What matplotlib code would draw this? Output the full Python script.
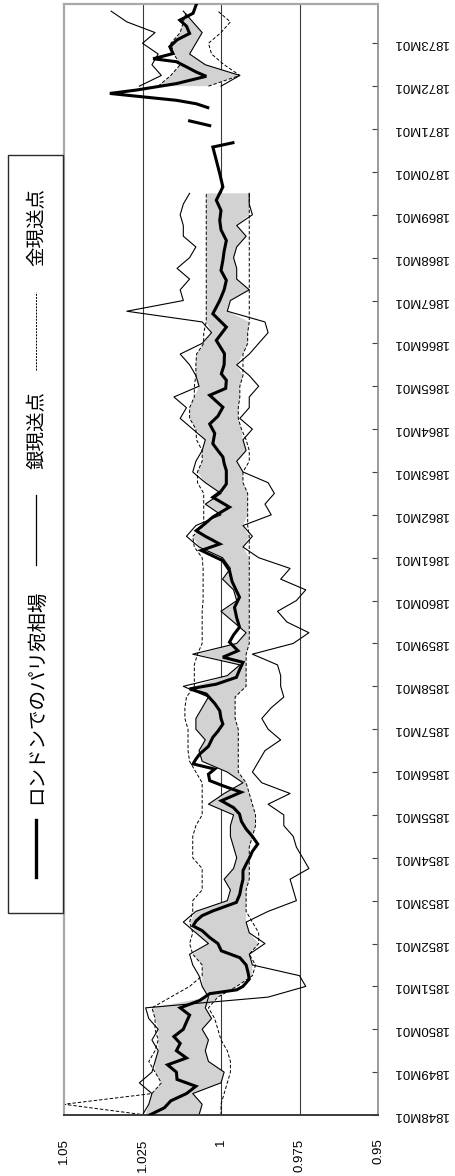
import numpy as np
import matplotlib
matplotlib.use("Agg")
import matplotlib.pyplot as plt
from matplotlib.patches import Rectangle
from matplotlib.lines import Line2D

plt.rcParams['font.family'] = ['Liberation Sans', 'Noto Sans CJK JP', 'DejaVu Sans']

nan = np.nan

# ---------------- data ----------------
legend_labels = ["ロンドンでのパリ宛相場", "銀現送点", "金現送点"]
value_ticks = [1.05, 1.025, 1.0, 0.975, 0.95]
value_tick_labels = ["1.05", "1.025", "1", "0.975", "0.95"]
year_ticks = list(range(1848, 1874))
year_tick_labels = [f"{y}M01" for y in year_ticks]

# quarterly dates 1848Q1 .. 1873Q4
band_t = np.arange(1848.0, 1874.0, 0.25)

gold_a = [1.024, 1.05, 1.022, 1.019,
          1.021, 1.023, 1.021, 1.020,
          1.021, 1.021, 1.022, 1.016,
          1.010, 1.006, 1.006, 1.009,
          1.010, 1.009, 1.010, 1.009,
          1.009, 1.006, 1.006, 1.006,
          1.009, 1.009, 1.009, 1.008,
          1.006, 1.006, 1.006, 1.006,
          1.008, 1.010, 1.0105, 1.0105,
          1.0105, 1.0115, 1.0115, 1.011,
          1.0085, 1.0085, 1.0085, 1.0075,
          1.006, 1.006, 1.006, 1.006,
          1.0057, 1.0057, 1.0057, 1.0057,
          1.006, 1.0085, 1.009, 1.0055,
          1.0055, 1.0055, 1.0055, 1.0075,
          1.0075, 1.006, 1.006, 1.0078,
          1.008, 1.010, 1.010, 1.0085,
          1.0085, 1.008, 1.008, 1.0078,
          1.0055, 1.0055, 1.0047, 1.0047,
          1.0047, 1.0047, 1.0047, 1.0047,
          1.0047, 1.0047, 1.0047, 1.0047,
          1.0047, 1.0047, 1.0047, nan,
          nan, nan, nan, nan,
          nan, nan, nan, nan,
          1.020, 1.016, 1.013, 1.015,
          1.016, 1.013, 1.012, 1.011]

gold_b = [1.000, 1.000, 0.999, 0.998,
          0.997, 0.997, 0.998, 1.000,
          1.001, 1.002, 1.004, 1.001,
          0.995, 0.990, 0.989, 0.991,
          0.988, 0.988, 0.990, 0.992,
          0.992, 0.992, 0.991, 0.991,
          0.991, 0.991, 0.990, 0.989,
          0.989, 0.990, 0.991, 0.992,
          0.9945, 0.9945, 0.9945, 0.9945,
          0.9945, 0.9955, 0.9955, 0.9955,
          0.992, 0.992, 0.992, 0.992,
          0.991, 0.991, 0.991, 0.991,
          0.991, 0.991, 0.991, 0.991,
          0.991, 0.991, 0.991, 0.9915,
          0.9915, 0.9915, 0.9915, 0.993,
          0.993, 0.991, 0.991, 0.992,
          0.9935, 0.9945, 0.9945, 0.994,
          0.994, 0.993, 0.993, 0.993,
          0.9915, 0.9915, 0.991, 0.991,
          0.991, 0.991, 0.991, 0.991,
          0.991, 0.991, 0.991, 0.991,
          0.991, 0.991, 0.991, nan,
          nan, nan, nan, nan,
          nan, nan, nan, nan,
          1.004, 0.994, 0.999, 1.003,
          1.004, 1.000, 0.997, 1.001]

silver_a = [1.025, 1.023, 1.022, 1.026,
            1.022, 1.021, 1.020, 1.022,
            1.020, 1.023, 1.024, 0.985,
            0.973, 0.975, 0.990, 0.991,
            0.986, 0.991, 0.992, 0.985,
            0.976, 0.977, 0.978, 0.972,
            0.974, 0.976, 0.977, 0.980,
            0.980, 0.985, 0.978, 0.987,
            0.990, 0.988, 0.986, 0.981,
            0.985, 0.987, 0.984, 0.980,
            0.981, 0.981, 0.982, 0.990,
            0.977, 0.972, 0.979, 0.982,
            0.976, 0.973, 0.981, 0.978,
            0.988, 0.993, 0.990, 0.993,
            0.984, 0.986, 0.983, 0.985,
            0.993, 0.995, 0.992, 0.993,
            0.990, 0.994, 0.991, 0.991,
            0.988, 0.991, 0.995, 0.991,
            0.988, 0.985, 0.986, 0.998,
            0.997, 0.991, 0.995, 0.995,
            0.996, 0.995, 0.992, 0.995,
            0.990, 0.991, 0.991, nan,
            nan, nan, nan, nan,
            nan, nan, nan, nan,
            1.000, 0.994, 1.005, 1.010,
            1.008, 1.006, 1.009, 1.012]

silver_b = [1.007, 1.006, 1.009, 1.000,
            0.999, 1.004, 1.005, 1.004,
            1.006, 1.003, 1.005, 1.004,
            1.006, 1.007, 1.009, 1.010,
            1.004, 1.008, 1.012, 1.008,
            0.998, 0.997, 0.999, 0.996,
            0.995, 0.996, 0.997, 0.997,
            0.996, 1.004, 0.999, 0.993,
            0.998, 1.006, 1.007, 1.005,
            1.008, 1.008, 1.006, 1.004,
            1.012, 0.998, 0.994, 1.009,
            0.995, 0.992, 0.996, 1.000,
            0.995, 0.996, 0.9995, 0.997,
            0.9995, 1.007, 1.011, 1.008,
            1.000, 1.005, 1.000, 1.005,
            1.009, 1.008, 1.006, 1.005,
            1.009, 1.013, 1.011, 1.015,
            1.007, 1.008, 1.010, 1.013,
            1.006, 1.003, 1.006, 1.030,
            1.012, 1.013, 1.010, 1.014,
            1.010, 1.008, 1.012, 1.012,
            1.013, 1.012, 1.010, nan,
            nan, nan, nan, nan,
            nan, nan, nan, nan,
            1.026, 1.019, 1.022, 1.020,
            1.025, 1.021, 1.030, 1.035]

rate_t = [1848.00, 1848.17, 1848.33, 1848.50, 1848.67, 1848.83, 1849.00, 1849.17,
          1849.33, 1849.50, 1849.67, 1849.83, 1850.00, 1850.17, 1850.33, 1850.50,
          1850.67, 1850.83, 1850.92, 1851.00, 1851.17, 1851.33, 1851.50, 1851.67,
          1851.83, 1852.00, 1852.14, 1852.30, 1852.41, 1852.53, 1852.65, 1852.76,
          1852.96, 1853.15, 1853.31, 1853.50, 1853.70, 1853.85, 1854.00, 1854.15,
          1854.32, 1854.50, 1854.67, 1854.85, 1855.02, 1855.17, 1855.33, 1855.53,
          1855.67, 1855.80, 1855.95, 1856.07, 1856.19, 1856.30, 1856.42, 1856.60,
          1856.81, 1856.95, 1857.12, 1857.25, 1857.43, 1857.60, 1857.82, 1857.94,
          1858.05, 1858.21, 1858.40, 1858.56, 1858.68, 1858.83, 1859.03, 1859.20,
          1859.38, 1859.60, 1859.84, 1860.08, 1860.23, 1860.45, 1860.70, 1860.93,
          1861.17, 1861.32, 1861.50, 1861.63, 1861.80, 1861.95, 1862.18, 1862.41,
          1862.55, 1862.72, 1863.03, 1863.20, 1863.35, 1863.50, 1863.66, 1863.90,
          1864.12, 1864.30, 1864.51, 1864.79, 1864.95, 1865.14, 1865.29, 1865.50,
          1865.76, 1866.07, 1866.38, 1866.69, 1867.00, 1867.25, 1867.47, 1867.70,
          1867.94, 1868.15, 1868.40, 1868.65, 1868.87, 1869.10, 1869.34, 1869.65,
          1869.96, 1870.27, 1870.58, 1870.68, 1870.85, 1871.08, 1871.19, 1871.35,
          1871.50, 1871.59, 1871.67, 1871.75, 1871.83, 1871.91, 1872.06, 1872.23,
          1872.33, 1872.45, 1872.57, 1872.64, 1872.76, 1872.92, 1873.08, 1873.23,
          1873.40, 1873.54, 1873.70, 1873.92]
rate_v = [1.0227, 1.018, 1.016, 1.011, 1.008, 1.014, 1.0142, 1.017,
          1.011, 1.0142, 1.013, 1.015, 1.012, 1.011, 1.010, 1.013,
          1.0068, 1.0036, 0.995, 0.993, 0.991, 0.9914, 0.992, 0.994,
          0.9999, 1.001, 1.0036, 1.006, 1.0089, 1.0079, 1.006, 1.0026,
          0.9951, 0.994, 0.9936, 0.993, 0.993, 0.992, 0.9909, 0.990,
          0.9883, 0.990, 0.992, 0.9935, 0.9941, 0.996, 0.9999, 0.9936,
          0.999, 1.0036, 1.004, 1.002, 1.0089, 1.008, 1.0068, 1.004,
          1.0026, 1.001, 0.9994, 1.000, 1.0004, 1.002, 1.0047, 1.010,
          1.0015, 0.9951, 0.994, 0.993, 0.9994, 0.9946, 0.9973, 0.996,
          0.9941, 0.995, 0.9957, 0.9941, 0.9951, 0.9965, 0.9973, 0.9994,
          1.0063, 1.0004, 1.005, 1.0079, 1.005, 1.0026, 0.9973, 1.0026,
          1.000, 0.9983, 0.9983, 0.999, 0.9994, 1.001, 1.0026, 1.002,
          1.0036, 1.001, 0.9994, 1.0036, 0.9985, 0.9983, 0.9999, 0.999,
          0.9989, 1.0015, 0.9983, 1.0026, 1.0004, 0.999, 0.9983, 1.000,
          0.9994, 0.999, 0.9983, 1.000, 1.0004, 1.000, 1.0015, 0.9994,
          1.0004, 1.0015, 1.0026, 0.9962, nan, 1.0036, 1.010, nan,
          1.0042, 1.0079, 1.0142, 1.0248, 1.0354, 1.0269, 1.0142, 1.0047,
          1.0079, 1.011, 1.0142, 1.0216, 1.0153, 1.0163, 1.014, 1.010,
          1.011, 1.0131, 1.0089, 1.0078]

# ---------------- figure ----------------
W, H = 456, 1176
fig = plt.figure(figsize=(W / 100, H / 100), dpi=100)
L, R, T, B = 64, 378, 4, 1115
ax = fig.add_axes([L / W, 1 - B / H, (R - L) / W, (B - T) / H])
ax.set_xlim(1.05, 0.95)
ax.set_ylim(1848.0, 1873 + 11 / 12)

ga, gb = np.array(gold_a), np.array(gold_b)
sa, sb = np.array(silver_a), np.array(silver_b)
lo = np.fmax(np.fmin(ga, gb), np.fmin(sa, sb))
hi = np.fmin(np.fmax(ga, gb), np.fmax(sa, sb))
valid = np.isfinite(lo) & np.isfinite(hi) & (hi > lo)
ax.fill_betweenx(band_t, lo, hi, where=valid, interpolate=True,
                 color='#d2d2d2', lw=0, zorder=1)

for v in value_ticks[1:-1]:
    ax.axvline(v, color='#3a3a3a', lw=0.8, zorder=0.5)

dash = (0, (3.5, 2.0))
ax.plot(gold_a, band_t, color='black', lw=0.7, ls=dash, zorder=2)
ax.plot(gold_b, band_t, color='black', lw=0.7, ls=dash, zorder=2)
ax.plot(silver_a, band_t, color='black', lw=0.8, zorder=2.1)
ax.plot(silver_b, band_t, color='black', lw=0.8, zorder=2.1)
ax.plot(rate_v, rate_t, color='black', lw=2.2, zorder=3, solid_joinstyle='miter')

ax.set_xticks(value_ticks)
ax.set_xticklabels(value_tick_labels, rotation=90, fontsize=9.5)
ax.tick_params(axis='x', length=0, pad=17)

ax.yaxis.tick_right()
ax.set_yticks(year_ticks)
ax.set_yticklabels(year_tick_labels, rotation=180, fontsize=9.5, va='center')
ax.tick_params(axis='y', direction='in', length=4.5, width=0.8, color='#404040', pad=10)

for side in ['left', 'top']:
    ax.spines[side].set_color('#a8a8a8')
    ax.spines[side].set_linewidth(1.6)
ax.spines['bottom'].set_color('#3c3c3c')
ax.spines['bottom'].set_linewidth(1.4)
ax.spines['right'].set_color('#8a8a8a')
ax.spines['right'].set_linewidth(1.2)

# ---------------- legend (rotated) ----------------
ov = fig.add_axes([0, 0, 1, 1])
ov.set_xlim(0, W)
ov.set_ylim(H, 0)
ov.axis('off')
ov.add_patch(Rectangle((8, 155), 55, 758, fill=False, ec='#2a2a2a', lw=1.0))
cx = 36
ov.add_line(Line2D([cx, cx], [877, 820], color='black', lw=2.4))
ov.text(cx + 1, 697, legend_labels[0], rotation=90, ha='center', va='center',
        fontsize=14, family=['Noto Sans CJK JP', 'DejaVu Sans'])
ov.add_line(Line2D([cx, cx], [565, 495], color='black', lw=0.9))
ov.text(cx + 1, 430, legend_labels[1], rotation=90, ha='center', va='center',
        fontsize=14, family=['Noto Sans CJK JP', 'DejaVu Sans'])
ov.add_line(Line2D([cx, cx], [370, 292], color='black', lw=0.7, ls=(0, (2.0, 1.2))))
ov.text(cx + 1, 227, legend_labels[2], rotation=90, ha='center', va='center',
        fontsize=14, family=['Noto Sans CJK JP', 'DejaVu Sans'])

fig.savefig("out.png", dpi=100)
